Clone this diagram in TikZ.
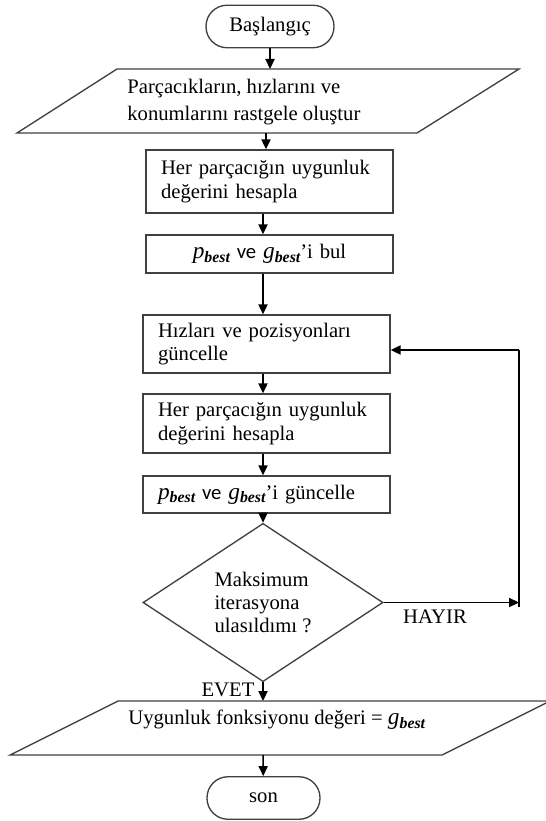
\documentclass[tikz,border=0pt]{standalone}
\usepackage{fontspec}
\setmainfont{Liberation Serif}
\newfontfamily\veyazi{Carlito}
\usetikzlibrary{arrows.meta,shapes.geometric}
\newcommand{\yazi}{\fontsize{12.4}{14}\selectfont}
\newcommand{\enb}[1]{{\fontsize{14}{14}\selectfont\itshape #1}\raisebox{-2.2pt}{\fontsize{9.5}{9.5}\selectfont\bfseries\itshape best}}
\tikzset{
    cizgi/.style={draw=black!75,line width=0.8pt},
    ok/.style={-{Triangle[length=6pt,width=5.5pt]},line width=0.9pt},
    kutu/.style={cizgi,rectangle,minimum width=148.2pt,text width=130.2pt,inner xsep=9pt,align=left,font=\yazi},
    uc/.style={cizgi,rectangle,rounded corners=12.6pt,minimum height=25.5pt,font=\yazi},
    karar/.style={cizgi,diamond,minimum width=144pt,minimum height=81pt,inner sep=0pt,align=left,font=\yazi},
    metin/.style={inner sep=0pt,align=left,font=\yazi}
}
\begin{document}
\begin{tikzpicture}[x=0.6pt,y=-0.6pt]
                \useasboundingbox (0,0) rectangle (545,821);
                % baslangic
                \node[uc,minimum width=76.8pt] (basla) at (270,26.5) {Başlangıç};
                \coordinate (p1n) at (270,69);
                \coordinate (p1s) at (266,133);
                \draw[cizgi] (117,69) -- (519,69) -- (417,133) -- (17,133) -- cycle;
                \node[metin,anchor=west] (p1) at (127,102) {Parçacıkların, hızlarını ve\\[2pt]konumlarını rastgele oluştur};

                % kutular
                \node[kutu,minimum height=37.8pt] (k1) at (269.5,181.5) {Her parçacığın uygunluk\\değerini hesapla};
                \node[kutu,minimum height=22.8pt,align=center] (k2) at (269.5,254) {\enb{p} {\veyazi ve} \enb{g}’i bul};
                \node[kutu,minimum height=34.8pt] (k3) at (266.5,344) {Hızları ve pozisyonları\\güncelle};
                \node[kutu,minimum height=35.4pt] (k4) at (266.5,423.5) {Her parçacığın uygunluk\\değerini hesapla};
                \node[kutu,minimum height=22.2pt] (k5) at (266.5,494.5) {\enb{p} {\veyazi ve} \enb{g}’i güncelle};
                \node[karar] (kr) at (263,602.5) {Maksimum\\iterasyona\\ulasıldımı ?};

                \draw[ok] (basla) -- (p1n);
                \draw[ok] (p1s) -- (p1s |- k1.north);
                \draw[ok] (k1.south -| kr) -- (k2.north -| kr);
                \draw[ok] (k2.south -| kr) -- (k3.north -| kr);
                \draw[ok] (k3.south -| kr) -- (k4.north -| kr);
                \draw[ok] (k4.south -| kr) -- (k5.north -| kr);
                \draw[ok] (k5.south -| kr) -- (kr.north);

                % geri donus
                \coordinate (don0) at (519,607);
                \coordinate (don1) at (519,602.5);
                \coordinate (don2) at (519,350);
                \draw[ok] (kr.east) -- (don1);
                \draw[line width=0.9pt] (don0) -- (don2);
                \draw[ok] (don2) -- (don2 -| k3.east);
                \node[metin] (hayir) at (435,617) {HAYIR};
                \node[metin] (evet) at (228,690) {EVET};

                % sonuc
                \coordinate (p2n) at (263,701);
                \coordinate (p2s) at (263,755);
                \draw[ok] (kr.south) -- (p2n);
                \draw[cizgi] (118,701) -- (550,701) -- (442,755) -- (10,755) -- cycle;
                \node[metin,anchor=west] (p2) at (128,720) {Uygunluk fonksiyonu değeri = \enb{g}};
                \node[uc,minimum width=67.8pt] (son) at (263.5,798) {son};
                \draw[ok] (p2s) -- (son);
\end{tikzpicture}
\end{document}
